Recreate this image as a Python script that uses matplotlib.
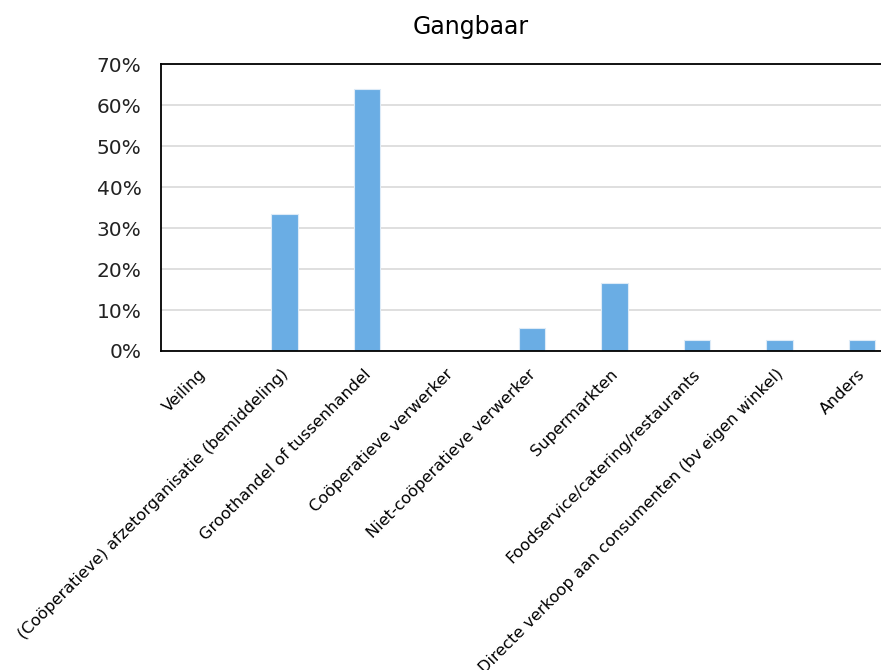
import matplotlib
matplotlib.use("Agg")
import matplotlib.pyplot as plt
from matplotlib.ticker import PercentFormatter

plt.rcParams['font.family'] = ['DejaVu Sans']

categories = [
    "Veiling",
    "(Coöperatieve) afzetorganisatie (bemiddeling)",
    "Groothandel of tussenhandel",
    "Coöperatieve verwerker",
    "Niet-coöperatieve verwerker",
    "Supermarkten",
    "Foodservice/catering/restaurants",
    "Directe verkoop aan consumenten (bv eigen winkel)",
    "Anders",
]
values = [0.0, 33.3, 63.9, 0.0, 5.6, 16.7, 2.8, 2.8, 2.8]
title = "Gangbaar"

fig = plt.figure(figsize=(8.81, 6.70), dpi=100)
ax = fig.add_axes([161/881, 1-351/670, (903-161)/881, (351-64)/670])

x = list(range(len(categories)))
ax.bar(x, values, width=0.32, color="#6AADE4", edgecolor="#DDEBF7", linewidth=0.8, zorder=3)

ax.set_xlim(-0.5, len(categories) - 0.5)
ax.set_ylim(0, 70)
ax.set_yticks(range(0, 71, 10))
ax.yaxis.set_major_formatter(PercentFormatter(decimals=0))
ax.grid(axis='y', color="#D9D9D9", linewidth=1.2, zorder=0)
ax.set_axisbelow(True)

for s in ['left', 'top', 'right', 'bottom']:
    ax.spines[s].set_color('black')
    ax.spines[s].set_linewidth(1.3)
ax.spines['bottom'].set_zorder(4)

ax.tick_params(axis='y', length=0, labelsize=14.5, pad=14, colors='#222222')
ax.tick_params(axis='x', length=0, pad=11)
ax.set_xticks(x)
ax.set_xticklabels(categories, rotation=45, ha='right', rotation_mode='anchor', fontsize=11.6)
for lbl in ax.get_xticklabels():
    lbl.set_color('black')
    lbl.set_x(lbl.get_position()[0])
# shift labels slightly left to match reference
import matplotlib.transforms as mtransforms
offset = mtransforms.ScaledTranslation(-4/100, 0, fig.dpi_scale_trans)
for lbl in ax.get_xticklabels():
    lbl.set_transform(lbl.get_transform() + offset)

fig.text(471/881, 1-27/670, title, ha='center', va='center', fontsize=17)

fig.savefig("out.png", dpi=100)
